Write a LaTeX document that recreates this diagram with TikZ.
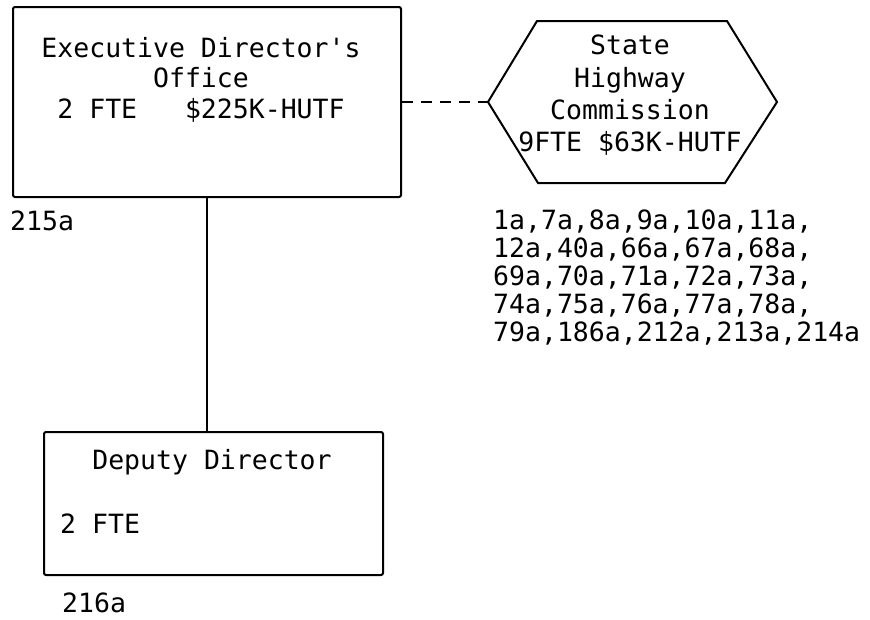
\documentclass[tikz,border=0pt]{standalone}
\usepackage{fontspec}
\setmainfont{DejaVu Sans Mono}
\usetikzlibrary{positioning}

\begin{document}
\begin{tikzpicture}[
  x=1pt, y=-1pt,
  unit/.style={
    draw,
    line width=2pt,
    rounded corners=2pt,
    inner sep=0pt
  },
  typed/.style={
    inner sep=0pt,
    font=\fontsize{26.5}{30.5}\selectfont
  },
  connector/.style={line width=2pt}
]
  \useasboundingbox (0,0) rectangle (870,619);
  \node[unit,minimum width=388pt,minimum height=190pt] (exec) at (207,102) {};
  \node[typed,align=center,anchor=north] (execname) at (201,37)
    {Executive Director\textquotesingle s\\Office\\2 FTE\ \ \ \$225K-HUTF};
  \node[typed,anchor=base west] (execno) at (10,230) {215a};

  % commission
  \coordinate (hexW) at (488,102);
  \draw[connector] (hexW) -- (537,21) -- (727,21) -- (777,102)
    -- (725,183) -- (538,183) -- cycle;
  \node[typed,align=center,anchor=north,font=\fontsize{26.5}{32.3}\selectfont] (hexname) at (630,35)
    {State\\Highway\\Commission\\9FTE \$63K-HUTF};
  \node[typed,align=left,anchor=north west,font=\fontsize{26.5}{28}\selectfont] (refs) at (493,209.5)
    {1a,7a,8a,9a,10a,11a,\\12a,40a,66a,67a,68a,\\69a,70a,71a,72a,73a,\\74a,75a,76a,77a,78a,\\79a,186a,212a,213a,214a};

  \node[unit,minimum width=339pt,minimum height=143pt] (dep) at (213.5,503.5) {};
  \node[typed,anchor=base] (depname) at (212,469) {Deputy Director};
  \node[typed,anchor=base west] (depfte) at (60,533) {2 FTE};
  \node[typed,anchor=base west] (depno) at (62,612) {216a};

  \draw[connector,dash pattern=on 11pt off 8pt] (exec.east) -- (hexW);
  \draw[connector] (exec.south) -- (exec.south |- dep.north);
\end{tikzpicture}
\end{document}
